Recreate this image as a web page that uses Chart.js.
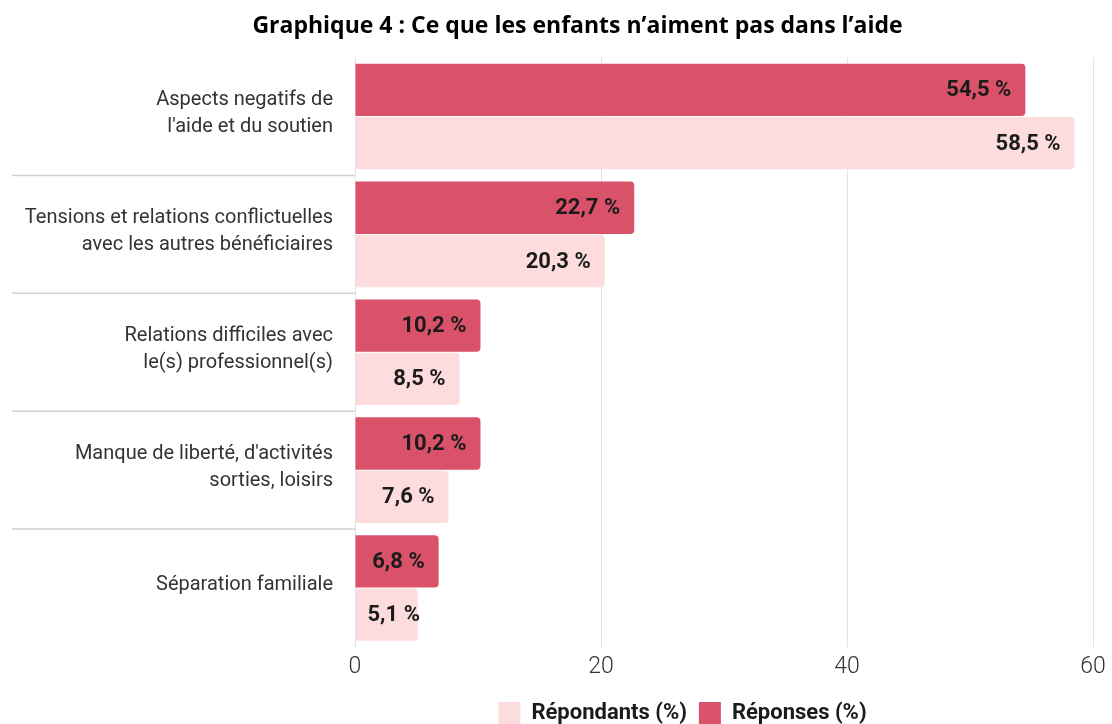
<!DOCTYPE html>
<html>
<head>
<meta charset="utf-8">
<script src="https://cdn.jsdelivr.net/npm/chart.js@4.4.1/dist/chart.umd.min.js"></script>
<style>
body{margin:0;background:#fff;}
</style>
</head>
<body>
<canvas id="aideChart" width="1112" height="724"></canvas>
<script>
// categories and values
let categories = [
["Aspects negatifs de","l'aide et du soutien"],
["Tensions et relations conflictuelles","avec les autres bénéficiaires"],
["Relations difficiles avec","le(s) professionnel(s)"],
["Manque de liberté, d'activités","sorties, loisirs"],
["Séparation familiale"]
];
let reponses = [54.5, 22.7, 10.2, 10.2, 6.8];
let repondants = [58.5, 20.3, 8.5, 7.6, 5.1];
let xTicks = [0, 20, 40, 60];

Chart.defaults.font.family = "Roboto, 'DejaVu Sans', sans-serif";

function fmt(v){
return v.toFixed(1).replace(".", ",") + " %";
}

// value labels at the end of each bar
const barLabels = {
id:"barLabels",
afterDatasetsDraw(chart){
let ctx = chart.ctx;
ctx.save();
ctx.font = "bold 22px Roboto";
ctx.fillStyle = "#1b1b1b";
ctx.textAlign = "right";
ctx.textBaseline = "middle";
chart.data.datasets.forEach((ds, di) => {
chart.getDatasetMeta(di).data.forEach((bar, i) => {
let txt = fmt(ds.data[i]);
let w = ctx.measureText(txt).width;
let x = Math.max(bar.x - 14, bar.base + 12 + w);
ctx.fillText(txt, x, bar.y + 1);
});
});
ctx.restore();
}
};

// grey separators between the categories, in the label area only
const separators = {
id:"separators",
afterDraw(chart){
let y = chart.scales.y;
let ctx = chart.ctx;
ctx.save();
ctx.strokeStyle = "#d2d2d2";
ctx.lineWidth = 1.5;
for(let i = 0; i < categories.length - 1; i++){
let py = (y.getPixelForTick(i) + y.getPixelForTick(i + 1)) / 2;
ctx.beginPath();
ctx.moveTo(12, py);
ctx.lineTo(chart.chartArea.left, py);
ctx.stroke();
}
ctx.restore();
}
};

// title and legend are not centred on the page in the original
const shiftBoxes = {
id:"shiftBoxes",
afterLayout(chart){
chart.titleBlock.left += 31;
chart.titleBlock.right += 31;
chart.legend.left += 136;
chart.legend.right += 136;
}
};

new Chart(document.getElementById("aideChart"), {
type:"bar",
data:{
labels:categories,
datasets:[
{
label:"Réponses (%)",
data:reponses,
backgroundColor:"#d9526a",
borderRadius:4,
borderSkipped:"start",
categoryPercentage:0.905,
barPercentage:0.98
},
{
label:"Répondants (%)",
data:repondants,
backgroundColor:"#fddcdd",
borderRadius:4,
borderSkipped:"start",
categoryPercentage:0.905,
barPercentage:0.98
}
]
},
options:{
indexAxis:"y",
responsive:false,
animation:false,
layout:{padding:{left:0, right:19, top:0, bottom:-10}},
plugins:{
title:{
display:true,
text:"Graphique 4 : Ce que les enfants n’aiment pas dans l’aide",
color:"#000",
font:{family:"'Open Sans'", size:23, weight:"bold", lineHeight:1.2},
padding:{top:13, bottom:17}
},
legend:{
position:"bottom",
reverse:true,
labels:{
boxWidth:22,
boxHeight:22,
padding:12,
color:"#1b1b1b",
font:{size:22, weight:"bold"}
}
},
tooltip:{enabled:false}
},
scales:{
x:{
min:0,
max:60,
afterBuildTicks(scale){
scale.ticks = xTicks.map(v => ({value:v}));
},
afterFit(scale){
scale.height = 43;
},
grid:{color:"#e2e2e2", drawTicks:false},
border:{display:false},
ticks:{
padding:6,
color:"#333",
font:{size:23, weight:"300", lineHeight:1.2}
}
},
y:{
afterFit(scale){
scale.width = 355;
},
grid:{display:false, drawTicks:false},
border:{display:false},
ticks:{
padding:22,
labelOffset:-3,
color:"#333",
font:{size:20, lineHeight:1.35}
}
}
}
},
plugins:[barLabels, separators, shiftBoxes]
});
</script>
</body>
</html>
